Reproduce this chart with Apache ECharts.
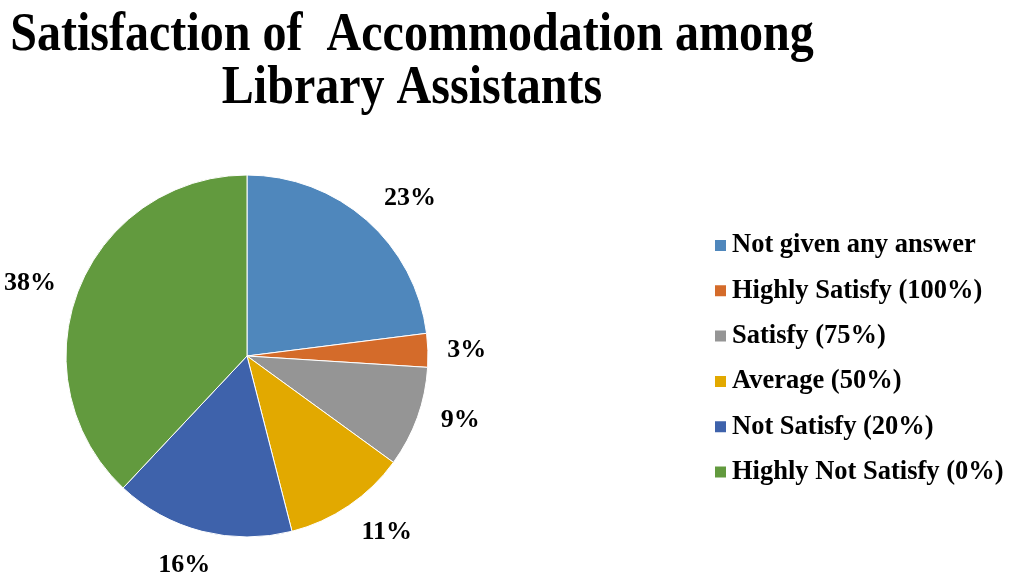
<!DOCTYPE html>
<html>
<head>
<meta charset="utf-8">
<script src="https://cdn.jsdelivr.net/npm/echarts@6/dist/echarts.min.js"></script>
<style>
  html, body { margin: 0; padding: 0; background: #fff; }
  #main { width: 1016px; height: 572px; }
</style>
</head>
<body>
<div id="main"></div>
<script>
// 图表数据
const titleLines = ['Satisfaction of  Accommodation among', 'Library Assistants'];
const categories = ['Not given any answer', 'Highly Satisfy (100%)', 'Satisfy (75%)', 'Average (50%)', 'Not Satisfy (20%)', 'Highly Not Satisfy (0%)'];
const values = [23, 3, 9, 11, 16, 38];
const colors = ['#4f87bc', '#d46b2a', '#959595', '#e2a900', '#3e62ab', '#629a3e'];

const FONT = '"Liberation Serif", "Times New Roman", serif';
const CX = 247, CY = 356, R = 181;
const total = values.reduce((a, b) => a + b, 0);

// 标签放在扇区中线外侧，斜向时略向角点偏移（近似Excel）
function placeLabel(params) {
    let i = params.dataIndex;
    let before = 0;
    for (let k = 0; k < i; k++) before += values[k];
    let ang = (before + values[i] / 2) / total * Math.PI * 2;
    let s = Math.sin(ang), c = Math.cos(ang);
    let ext = Math.abs(s) * params.labelRect.width / 2 + Math.abs(c) * 12;
    let d = R + 19 + ext;
    let t = 18 * Math.sin(2 * ang);
    return {
        x: CX + d * s + t * c,
        y: CY - d * c + t * s,
        align: 'center',
        verticalAlign: 'middle'
    };
}

let myChart = echarts.init(document.getElementById('main'));
myChart.setOption({
    animation: false,
    color: colors,
    // 标题字形偏窄，用 scaleX 压缩
    graphic: titleLines.map((t, i) => ({
        type: 'text',
        x: 412,
        y: 36 + i * 53,
        scaleX: 0.89,
        style: {
            text: t,
            font: 'bold 54px ' + FONT,
            fill: '#000',
            textAlign: 'center',
            textVerticalAlign: 'middle'
        }
    })),
    legend: {
        orient: 'vertical',
        left: 708,
        top: 227,
        itemWidth: 13,
        itemHeight: 13,
        itemGap: 18.3,
        icon: 'rect',
        textStyle: { fontFamily: FONT, fontWeight: 'bold', fontSize: 26.5, lineHeight: 26, color: '#000' },
        data: categories
    },
    series: [{
        type: 'pie',
        center: [CX, CY],
        radius: R,
        startAngle: 90,
        clockwise: true,
        itemStyle: { borderColor: '#fff', borderWidth: 1 },
        label: {
            show: true,
            position: 'outside',
            formatter: '{c}%',
            overflow: 'none',
            fontFamily: FONT, fontWeight: 'bold', fontSize: 26, color: '#000'
        },
        labelLine: { show: false },
        labelLayout: placeLabel,
        data: categories.map((name, i) => ({ name: name, value: values[i] }))
    }]
});
</script>
</body>
</html>
